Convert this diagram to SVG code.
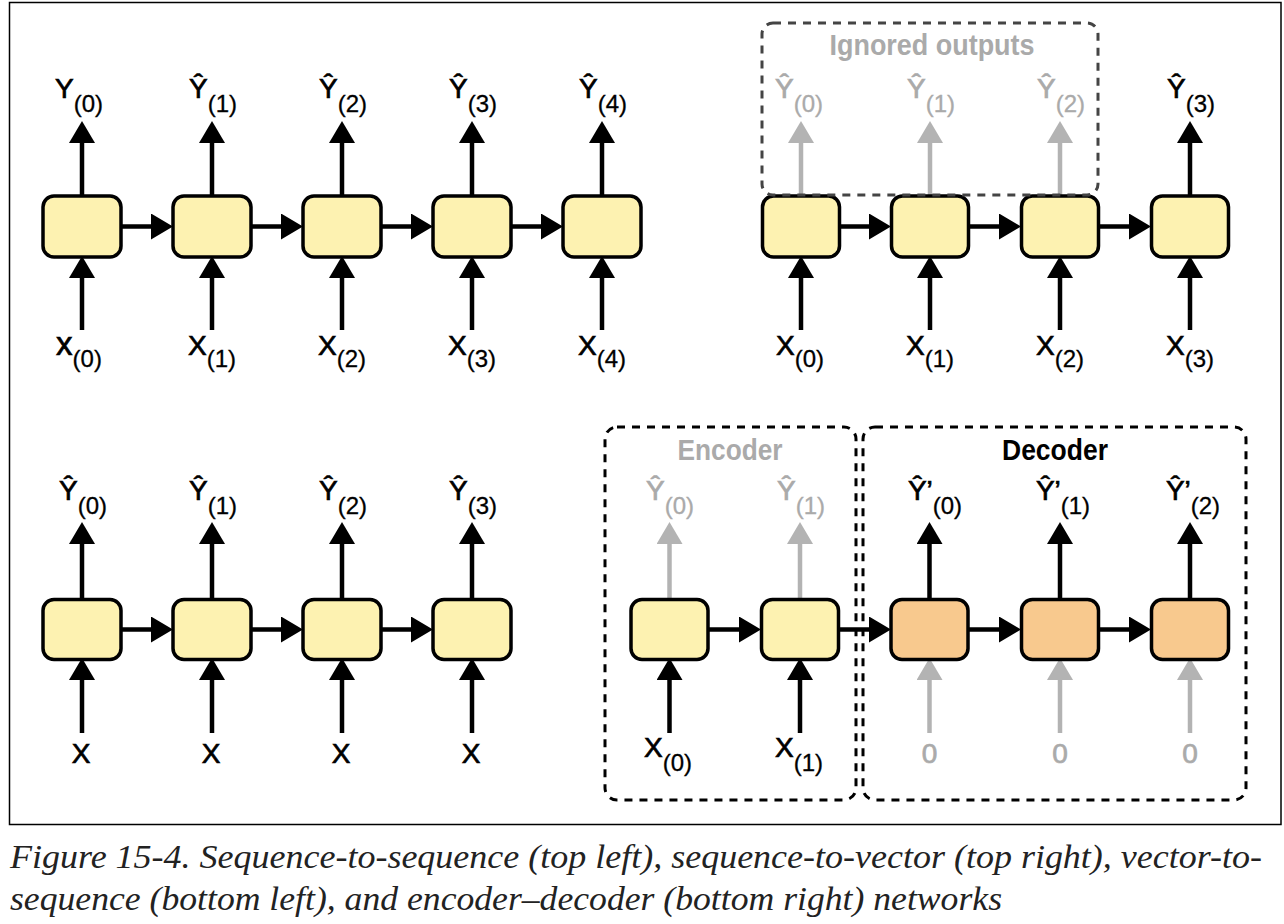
<svg xmlns="http://www.w3.org/2000/svg" width="1284" height="924" viewBox="0 0 1284 924">
<defs>
<marker id="ah" markerUnits="userSpaceOnUse" markerWidth="22" markerHeight="26" refX="0" refY="13" orient="auto" viewBox="0 0 22 26"><path d="M0,0 L22,13 L0,26 z" fill="#000"/></marker>
<marker id="ahg" markerUnits="userSpaceOnUse" markerWidth="22" markerHeight="26" refX="0" refY="13" orient="auto" viewBox="0 0 22 26"><path d="M0,0 L22,13 L0,26 z" fill="#b3b3b3"/></marker>
<style>
.frame{fill:none;stroke:#000;stroke-width:1.5}
.cell{fill:#fdf2b1;stroke:#000;stroke-width:3.5}
.dec{fill:#f8c98e;stroke:#000;stroke-width:3.5}
.a{stroke:#000;stroke-width:4.5;fill:none;marker-end:url(#ah)}
.ag{stroke:#b3b3b3;stroke-width:4.5;fill:none;marker-end:url(#ahg)}
.lbl{font-family:"Liberation Sans",Arial,sans-serif;font-size:28px;fill:#000;stroke:#000;stroke-width:0.7;text-anchor:middle}
.lbl tspan{font-size:24px;stroke-width:0.3}
.gl{fill:#aaaaaa;stroke:#aaaaaa}
.title{font-family:"Liberation Sans",Arial,sans-serif;font-size:29px;font-weight:bold;text-anchor:middle}
.box{fill:none;stroke:#000;stroke-width:3;stroke-dasharray:8 7}
.cap{font-family:"Liberation Serif","Times New Roman",serif;font-style:italic;font-size:33px;fill:#222}
</style>
</defs>
<rect class="frame" x="9.5" y="2.5" width="1271.5" height="822"/>

<g id="connectors">
<path class="a" d="M82,196 V143"/><path class="a" d="M212,196 V143"/><path class="a" d="M342,196 V143"/><path class="a" d="M472,196 V143"/><path class="a" d="M602,196 V143"/>
<path class="a" d="M82,330 V278"/><path class="a" d="M212,330 V278"/><path class="a" d="M342,330 V278"/><path class="a" d="M472,330 V278"/><path class="a" d="M602,330 V278"/>
<path class="a" d="M121,226.5 H151"/><path class="a" d="M251,226.5 H281"/><path class="a" d="M381,226.5 H411"/><path class="a" d="M511,226.5 H541"/>
<path class="ag" d="M801,196 V143"/><path class="ag" d="M930,196 V143"/><path class="ag" d="M1060,196 V143"/><path class="a" d="M1190,196 V143"/>
<path class="a" d="M801,330 V278"/><path class="a" d="M930,330 V278"/><path class="a" d="M1060,330 V278"/><path class="a" d="M1190,330 V278"/>
<path class="a" d="M840,226.5 H869"/><path class="a" d="M969,226.5 H999"/><path class="a" d="M1099,226.5 H1129"/>
<path class="a" d="M82,600 V544"/><path class="a" d="M212,600 V544"/><path class="a" d="M342,600 V544"/><path class="a" d="M472,600 V544"/>
<path class="a" d="M82,733 V680"/><path class="a" d="M212,733 V680"/><path class="a" d="M342,733 V680"/><path class="a" d="M472,733 V680"/>
<path class="a" d="M121,629.5 H151"/><path class="a" d="M251,629.5 H281"/><path class="a" d="M381,629.5 H411"/>
<path class="ag" d="M669.5,600 V544"/><path class="ag" d="M800,600 V544"/>
<path class="a" d="M929.5,600 V544"/><path class="a" d="M1060,600 V544"/><path class="a" d="M1190,600 V544"/>
<path class="a" d="M669.5,733 V680"/><path class="a" d="M800,733 V680"/>
<path class="ag" d="M929.5,733 V680"/><path class="ag" d="M1060,733 V680"/><path class="ag" d="M1190,733 V680"/>
<path class="a" d="M708.5,629.5 H739"/><path class="a" d="M839,629.5 H869"/><path class="a" d="M968.5,629.5 H999"/><path class="a" d="M1099,629.5 H1129"/>
</g>

<g id="seq2seq">
<rect class="cell" x="43" y="196" width="78" height="61" rx="11"/>
<rect class="cell" x="173" y="196" width="78" height="61" rx="11"/>
<rect class="cell" x="303" y="196" width="78" height="61" rx="11"/>
<rect class="cell" x="433" y="196" width="78" height="61" rx="11"/>
<rect class="cell" x="563" y="196" width="78" height="61" rx="11"/>
<text class="lbl" x="79" y="98">Y<tspan dy="14">(0)</tspan></text>
<text class="lbl" x="213" y="98">Ŷ<tspan dy="14">(1)</tspan></text>
<text class="lbl" x="343" y="98">Ŷ<tspan dy="14">(2)</tspan></text>
<text class="lbl" x="473" y="98">Ŷ<tspan dy="14">(3)</tspan></text>
<text class="lbl" x="603" y="98">Ŷ<tspan dy="14">(4)</tspan></text>
<text class="lbl" x="79" y="355" style="font-size:33px">x<tspan dy="12">(0)</tspan></text>
<text class="lbl" x="212" y="355">X<tspan dy="12">(1)</tspan></text>
<text class="lbl" x="342" y="355">X<tspan dy="12">(2)</tspan></text>
<text class="lbl" x="472" y="355">X<tspan dy="12">(3)</tspan></text>
<text class="lbl" x="602" y="355">X<tspan dy="12">(4)</tspan></text>
</g>

<g id="seq2vec">
<rect class="cell" x="762.5" y="196" width="77" height="61" rx="11"/>
<rect class="cell" x="891.5" y="196" width="77" height="61" rx="11"/>
<rect class="cell" x="1021.5" y="196" width="77" height="61" rx="11"/>
<rect class="cell" x="1151.5" y="196" width="77" height="61" rx="11"/>
<rect x="762" y="23" width="336" height="172" rx="11" fill="none" stroke="#444" stroke-width="3" stroke-dasharray="8 7"/>
<text class="title" x="932" y="55" fill="#aaaaaa" textLength="205" lengthAdjust="spacingAndGlyphs">Ignored outputs</text>
<text class="lbl gl" x="799" y="98">Ŷ<tspan dy="14">(0)</tspan></text>
<text class="lbl gl" x="931" y="98">Ŷ<tspan dy="14">(1)</tspan></text>
<text class="lbl gl" x="1061" y="98">Ŷ<tspan dy="14">(2)</tspan></text>
<text class="lbl" x="1191" y="98">Ŷ<tspan dy="14">(3)</tspan></text>
<text class="lbl" x="800" y="355">X<tspan dy="12">(0)</tspan></text>
<text class="lbl" x="930" y="355">X<tspan dy="12">(1)</tspan></text>
<text class="lbl" x="1060" y="355">X<tspan dy="12">(2)</tspan></text>
<text class="lbl" x="1190" y="355">X<tspan dy="12">(3)</tspan></text>
</g>

<g id="vec2seq">
<rect class="cell" x="43" y="599.5" width="78" height="60" rx="11"/>
<rect class="cell" x="173" y="599.5" width="78" height="60" rx="11"/>
<rect class="cell" x="303" y="599.5" width="78" height="60" rx="11"/>
<rect class="cell" x="433" y="599.5" width="78" height="60" rx="11"/>
<text class="lbl" x="83" y="500">Ŷ<tspan dy="14">(0)</tspan></text>
<text class="lbl" x="213" y="500">Ŷ<tspan dy="14">(1)</tspan></text>
<text class="lbl" x="343" y="500">Ŷ<tspan dy="14">(2)</tspan></text>
<text class="lbl" x="473" y="500">Ŷ<tspan dy="14">(3)</tspan></text>
<text class="lbl" x="81" y="763">X</text>
<text class="lbl" x="211" y="763">X</text>
<text class="lbl" x="341" y="763">X</text>
<text class="lbl" x="471" y="763">X</text>
</g>

<g id="encoder">
<rect class="box" x="605" y="427" width="251" height="373" rx="12"/>
<text class="title" x="730" y="460" fill="#aaaaaa" textLength="105" lengthAdjust="spacingAndGlyphs">Encoder</text>
<rect class="cell" x="631" y="599.5" width="77" height="60" rx="11"/>
<rect class="cell" x="761.5" y="599.5" width="77" height="60" rx="11"/>
<text class="lbl gl" x="670" y="500">Ŷ<tspan dy="14">(0)</tspan></text>
<text class="lbl gl" x="801" y="500">Ŷ<tspan dy="14">(1)</tspan></text>
<text class="lbl" x="668" y="757">X<tspan dy="14">(0)</tspan></text>
<text class="lbl" x="799" y="757">X<tspan dy="14">(1)</tspan></text>
</g>

<g id="decoder">
<rect class="box" x="863" y="427" width="383" height="373" rx="12"/>
<text class="title" x="1055" y="460" textLength="106" lengthAdjust="spacingAndGlyphs">Decoder</text>
<rect class="dec" x="891" y="599.5" width="77" height="60" rx="11"/>
<rect class="dec" x="1021.5" y="599.5" width="77" height="60" rx="11"/>
<rect class="dec" x="1151.5" y="599.5" width="77" height="60" rx="11"/>
<text class="lbl" x="935" y="500">Ŷ’<tspan dy="14">(0)</tspan></text>
<text class="lbl" x="1063" y="500">Ŷ’<tspan dy="14">(1)</tspan></text>
<text class="lbl" x="1193" y="500">Ŷ’<tspan dy="14">(2)</tspan></text>
<text class="lbl gl" x="929.5" y="763">0</text>
<text class="lbl gl" x="1060" y="763">0</text>
<text class="lbl gl" x="1190" y="763">0</text>
</g>

<g id="caption">
<text class="cap" x="10" y="868" textLength="1252" lengthAdjust="spacingAndGlyphs">Figure 15-4. Sequence-to-sequence (top left), sequence-to-vector (top right), vector-to-</text>
<text class="cap" x="10" y="910" textLength="992" lengthAdjust="spacingAndGlyphs">sequence (bottom left), and encoder–decoder (bottom right) networks</text>
</g>
</svg>
